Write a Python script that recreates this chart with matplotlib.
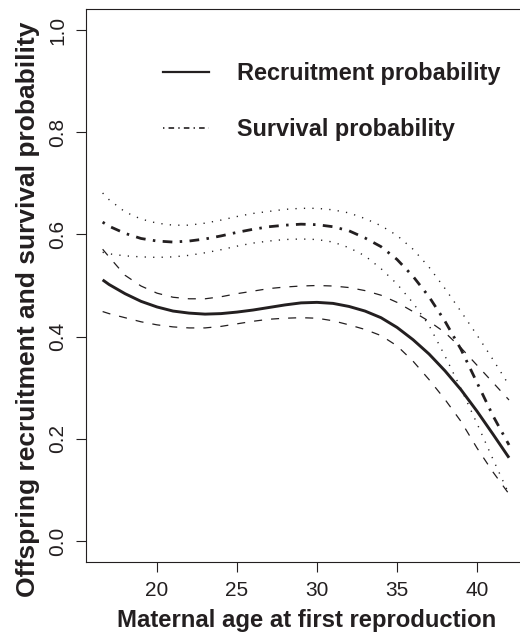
import matplotlib

matplotlib.use("Agg")
import matplotlib.pyplot as plt
from matplotlib.lines import Line2D

plt.rcParams["font.family"] = ["Liberation Sans", "DejaVu Sans"]
plt.rcParams["lines.scale_dashes"] = False

INK = "#231f20"

ages = [16.6, 17, 18, 19, 20, 21, 22, 23, 24, 25, 26, 27, 28, 29, 30,
        31, 32, 33, 34, 35, 36, 37, 38, 39, 40, 41, 42]

recruit = [0.511, 0.502, 0.484, 0.469, 0.458, 0.450, 0.446, 0.444, 0.445,
           0.448, 0.452, 0.457, 0.462, 0.466, 0.467, 0.465, 0.459, 0.450,
           0.437, 0.418, 0.394, 0.366, 0.333, 0.296, 0.254, 0.209, 0.163]
recruit_upper = [0.571, 0.556, 0.520, 0.499, 0.485, 0.477, 0.474, 0.474, 0.478,
                 0.484, 0.489, 0.494, 0.497, 0.499, 0.500, 0.499, 0.496, 0.490,
                 0.481, 0.467, 0.449, 0.430, 0.408, 0.378, 0.344, 0.310, 0.276]
recruit_lower = [0.449, 0.445, 0.437, 0.429, 0.423, 0.419, 0.417, 0.417, 0.420,
                 0.425, 0.430, 0.434, 0.436, 0.437, 0.436, 0.431, 0.423, 0.414,
                 0.402, 0.382, 0.352, 0.316, 0.277, 0.234, 0.182, 0.135, 0.092]

survival = [0.624, 0.616, 0.602, 0.592, 0.587, 0.585, 0.587, 0.591, 0.597,
            0.604, 0.610, 0.615, 0.618, 0.620, 0.619, 0.615, 0.607, 0.593,
            0.576, 0.551, 0.518, 0.478, 0.430, 0.375, 0.310, 0.245, 0.188]
survival_upper = [0.681, 0.668, 0.644, 0.630, 0.622, 0.618, 0.618, 0.622, 0.628,
                  0.635, 0.641, 0.645, 0.649, 0.651, 0.651, 0.648, 0.642, 0.631,
                  0.617, 0.598, 0.571, 0.536, 0.494, 0.449, 0.403, 0.355, 0.305]
survival_lower = [0.565, 0.562, 0.558, 0.556, 0.555, 0.556, 0.559, 0.564, 0.570,
                  0.577, 0.583, 0.587, 0.590, 0.591, 0.590, 0.585, 0.574, 0.558,
                  0.533, 0.503, 0.466, 0.422, 0.362, 0.298, 0.230, 0.160, 0.092]

x_ticks = [20, 25, 30, 35, 40]
y_ticks = [0.0, 0.2, 0.4, 0.6, 0.8, 1.0]
legend_labels = ["Recruitment probability", "Survival probability"]

DASHED = (0, (5.8, 6.5))
DOTTED = (0, (0.9, 5.2))
DOTDASH = (0, (1.8, 5.3, 7.0, 5.3))


def main():
    fig = plt.figure(figsize=(5.2, 6.35), dpi=100)
    ax = fig.add_axes([86 / 520, 73 / 635, 439 / 520, 553 / 635])

    ax.plot(ages, survival_upper, color=INK, lw=1.0, linestyle=DOTTED)
    ax.plot(ages, survival_lower, color=INK, lw=1.0, linestyle=DOTTED)
    ax.plot(ages, survival, color=INK, lw=2.0, linestyle=DOTDASH)

    ax.plot(ages, recruit_upper, color=INK, lw=0.9, linestyle=DASHED)
    ax.plot(ages, recruit_lower, color=INK, lw=0.9, linestyle=DASHED)
    ax.plot(ages, recruit, color=INK, lw=2.1, solid_capstyle="butt")

    ax.set_xlim(15.56, 43.0)
    ax.set_ylim(-0.041, 1.041)
    ax.set_xticks(x_ticks)
    ax.set_yticks(y_ticks)
    ax.set_yticklabels([f"{v:.1f}" for v in y_ticks], rotation=90, va="center")
    ax.tick_params(axis="both", direction="out", length=7.5, width=0.8,
                   color=INK, labelcolor=INK, labelsize=15, pad=6)
    for spine in ax.spines.values():
        spine.set_linewidth(0.8)
        spine.set_color(INK)

    handles = [
        Line2D([], [], color=INK, lw=1.6),
        Line2D([], [], color=INK, lw=1.2, linestyle=(0, (1.0, 3.0, 4.0, 3.0))),
    ]
    ax.legend(handles, legend_labels, loc="upper left",
              bbox_to_anchor=(163 / 520, 1 - 62 / 635), bbox_transform=fig.transFigure,
              frameon=False, borderpad=0, borderaxespad=0, handlelength=1.95,
              handletextpad=1.2, labelspacing=1.42,
              prop={"size": 16.9, "weight": "bold"}, labelcolor=INK)

    fig.text(307 / 520, 1 - 620 / 635, "Maternal age at first reproduction",
             ha="center", va="center", fontsize=17.2, fontweight="bold", color=INK)
    fig.text(28 / 520, 1 - 309 / 635, "Offspring recruitment and survival probability",
             ha="center", va="center", rotation=90, fontsize=19,
             fontweight="bold", color=INK)

    fig.savefig("out.png", dpi=100)
    plt.close(fig)


if __name__ == "__main__":
    main()
